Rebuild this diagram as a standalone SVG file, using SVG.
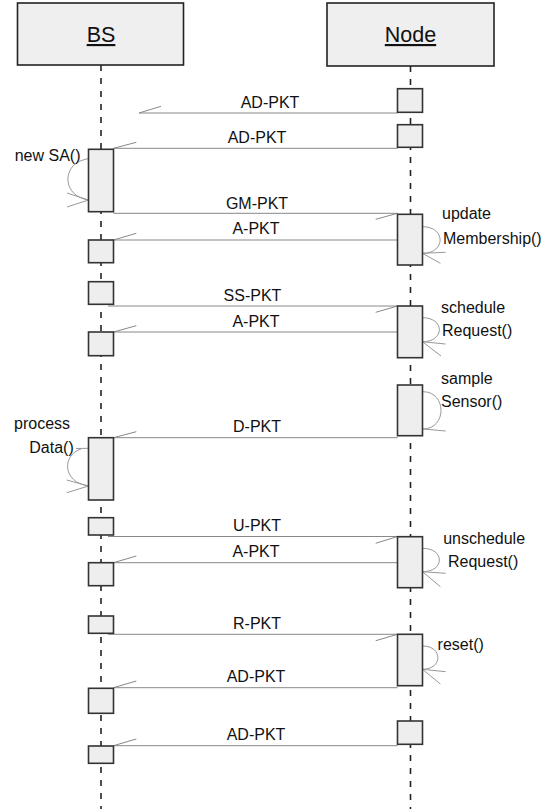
<svg xmlns="http://www.w3.org/2000/svg" width="548" height="809" viewBox="0 0 548 809">
  <style>
    .head { fill: #efefef; stroke: #222; stroke-width: 1.6; }
    .act { fill: #eeeeee; stroke: #333; stroke-width: 1.6; }
    .life { stroke: #222; stroke-width: 1.6; stroke-dasharray: 6 7; fill: none; }
    .msg { stroke: #888; stroke-width: 1; fill: none; }
    .loop { stroke: #999; stroke-width: 1; fill: none; }
    .title { font-family: "Liberation Sans", Arial, sans-serif; font-size: 21.5px; fill: #111; text-anchor: middle; text-decoration: underline; }
    .lbl { font-family: "Liberation Sans", Arial, sans-serif; font-size: 16px; fill: #111; text-anchor: middle; }
    .side { font-family: "Liberation Sans", Arial, sans-serif; font-size: 16px; fill: #111; }
  </style>

  <!-- lifelines -->
  <g id="lifelines">
    <line class="life" x1="101" y1="65" x2="101" y2="809"/>
    <line class="life" x1="410.5" y1="66" x2="410.5" y2="809"/>
  </g>

  <!-- participants -->
  <g id="bs">
    <rect class="head" x="17.5" y="3" width="166" height="62"/>
    <text class="title" x="101" y="42">BS</text>
  </g>
  <g id="node">
    <rect class="head" x="327" y="3" width="167" height="63"/>
    <text class="title" x="410.5" y="42">Node</text>
  </g>

  <!-- messages and self-calls -->
  <g id="connectors">
    <!-- AD-PKT (lost) -->
    <path class="msg" d="M397.5 113 H139 L161 106.3"/>
    <text class="lbl" x="270" y="108">AD-PKT</text>
    <!-- AD-PKT -->
    <path class="msg" d="M397.5 148.3 H113.5 L136.3 142.3"/>
    <text class="lbl" x="257" y="143.3">AD-PKT</text>
    <!-- new SA() -->
    <path class="loop" d="M88.5 158.5 L83 160 C62 166 62 196 88.5 200 M67 193 L88.5 200 L67 207"/>
    <!-- GM-PKT -->
    <path class="msg" d="M113.5 213.3 H397.5 L375.7 219.3"/>
    <text class="lbl" x="257" y="209">GM-PKT</text>
    <!-- A-PKT -->
    <path class="msg" d="M397.5 240 H113.5 L136.3 233.3"/>
    <text class="lbl" x="256" y="234">A-PKT</text>
    <!-- updateMembership() -->
    <path class="loop" d="M422.5 226.7 C446 226.7 446 253.3 422.5 253.3 M445.6 252.3 L422.5 253.3 L440.4 263.3"/>
    <!-- SS-PKT -->
    <path class="msg" d="M108 306 H397.5 L375.7 312.3"/>
    <text class="lbl" x="252.5" y="300.7">SS-PKT</text>
    <!-- A-PKT -->
    <path class="msg" d="M397.5 332 H113.5 L136.3 325.7"/>
    <text class="lbl" x="256" y="326.7">A-PKT</text>
    <!-- scheduleRequest() -->
    <path class="loop" d="M422.5 317.7 C445 317.7 445 341.7 422.5 341.7 M445.6 344 L422.5 341.7 L441 356"/>
    <!-- sampleSensor() -->
    <path class="loop" d="M423 391.7 C447 391.7 447 429 423 429 M445.6 431 L423 429"/>
    <!-- D-PKT -->
    <path class="msg" d="M397.5 437.7 H113.5 L136.3 431.7"/>
    <text class="lbl" x="257" y="432.3">D-PKT</text>
    <!-- processData() -->
    <path class="loop" d="M76 448.5 L88.5 448.3 M81 449 C62 455 62 482 88.5 486 M66.7 480 L88.5 486 L66.7 492.7"/>
    <!-- U-PKT -->
    <path class="msg" d="M108 536.5 H397.5 L375.7 543.3"/>
    <text class="lbl" x="257" y="530.7">U-PKT</text>
    <!-- A-PKT -->
    <path class="msg" d="M397.5 562.7 H113.5 L136.3 556"/>
    <text class="lbl" x="256" y="556.7">A-PKT</text>
    <!-- unscheduleRequest() -->
    <path class="loop" d="M422.5 548.3 C445 548.3 445 571.7 422.5 571.7 M445.6 573.3 L422.5 571.7 L440.4 586.7"/>
    <!-- R-PKT -->
    <path class="msg" d="M108 634.3 H397.5 L375.7 640.7"/>
    <text class="lbl" x="257" y="629">R-PKT</text>
    <!-- reset() -->
    <path class="loop" d="M422.5 646 C443 646 443 669.3 422.5 669.3 M445.6 671.7 L422.5 669.3 L440.4 684"/>
    <!-- AD-PKT -->
    <path class="msg" d="M397.5 687.7 H113.5 L136.3 681"/>
    <text class="lbl" x="256" y="681.7">AD-PKT</text>
    <!-- AD-PKT -->
    <path class="msg" d="M397.5 745.7 H113.5 L136.3 739"/>
    <text class="lbl" x="256" y="740">AD-PKT</text>
  </g>

  <!-- activation boxes -->
  <g id="activations">
    <rect class="act" x="397.5" y="88.7" width="25" height="23.6"/>
    <rect class="act" x="397.5" y="124.7" width="25" height="22.6"/>
    <rect class="act" x="88.5" y="149.3" width="25" height="62.4"/>
    <rect class="act" x="397.5" y="214.3" width="25" height="50.7"/>
    <rect class="act" x="88.5" y="240" width="25" height="22.7"/>
    <rect class="act" x="88.5" y="281.7" width="25" height="22.6"/>
    <rect class="act" x="397.5" y="306" width="25" height="51.7"/>
    <rect class="act" x="88.5" y="332" width="25" height="23.7"/>
    <rect class="act" x="397.5" y="385" width="25" height="50.7"/>
    <rect class="act" x="88.5" y="437.7" width="25" height="62.3"/>
    <rect class="act" x="88.5" y="517.7" width="25" height="17.3"/>
    <rect class="act" x="397.5" y="536.7" width="25" height="51"/>
    <rect class="act" x="88.5" y="562.7" width="25" height="23"/>
    <rect class="act" x="88.5" y="616" width="25" height="17.3"/>
    <rect class="act" x="397.5" y="634.3" width="25" height="51.4"/>
    <rect class="act" x="88.5" y="688.3" width="25" height="25"/>
    <rect class="act" x="397.5" y="721" width="25" height="23.3"/>
    <rect class="act" x="88.5" y="746" width="25" height="17.3"/>
  </g>

  <!-- self-call labels -->
  <g id="self-labels">
    <text class="side" x="14.7" y="160.5">new SA()</text>
    <text class="side" x="442" y="219.3">update</text>
    <text class="side" x="443" y="244.3">Membership()</text>
    <text class="side" x="441" y="313.3">schedule</text>
    <text class="side" x="442" y="335.7">Request()</text>
    <text class="side" x="441" y="384.3">sample</text>
    <text class="side" x="441" y="407">Sensor()</text>
    <text class="side" x="14" y="428.5">process</text>
    <text class="side" x="29.3" y="452.7">Data()</text>
    <text class="side" x="443.2" y="544">unschedule</text>
    <text class="side" x="448" y="566.7">Request()</text>
    <text class="side" x="437.6" y="650">reset()</text>
  </g>
</svg>
